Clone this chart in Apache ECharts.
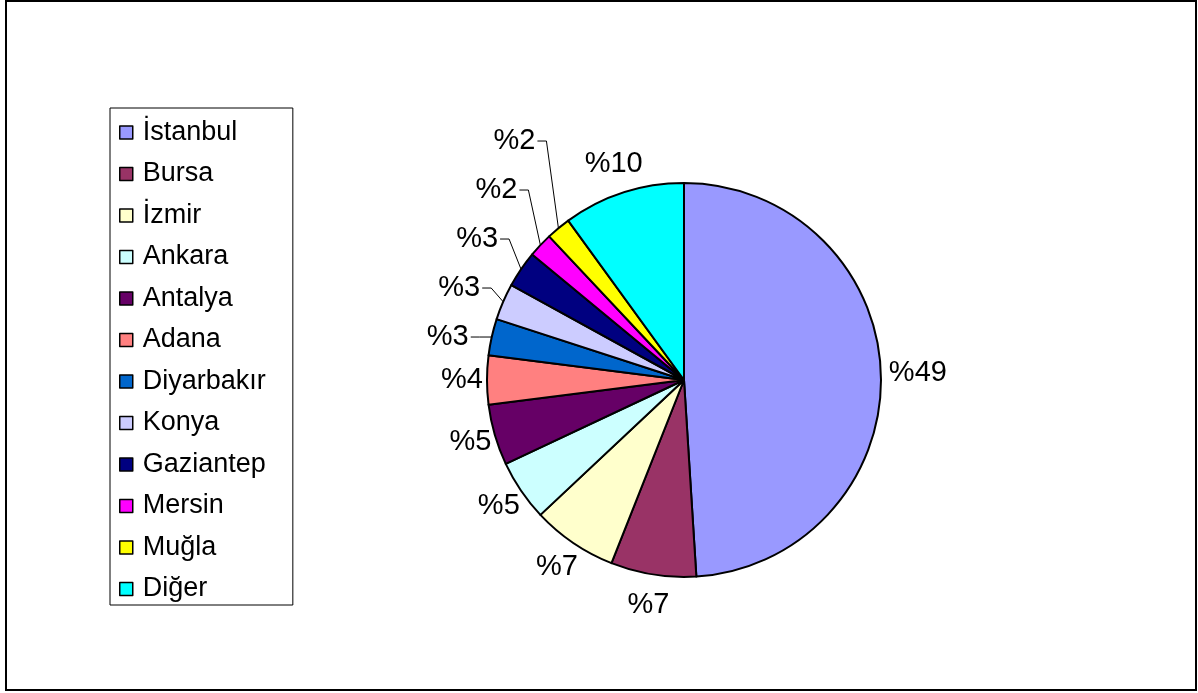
<!DOCTYPE html>
<html>
<head>
<meta charset="utf-8">
<script src="https://cdn.jsdelivr.net/npm/echarts@6/dist/echarts.min.js"></script>
<style>
  html, body { margin: 0; padding: 0; background: #fff; }
  #main { width: 1198px; height: 693px; }
</style>
</head>
<body>
<div id="main"></div>
<script>
// şehirler ve payları (%)
const cities = ['İstanbul', 'Bursa', 'İzmir', 'Ankara', 'Antalya', 'Adana',
    'Diyarbakır', 'Konya', 'Gaziantep', 'Mersin', 'Muğla', 'Diğer'];
const shares = [49, 7, 7, 5, 5, 4, 3, 3, 3, 2, 2, 10];
const colors = ['#9999FF', '#993366', '#FFFFCC', '#CCFFFF', '#660066', '#FF8080',
    '#0066CC', '#CCCCFF', '#000080', '#FF00FF', '#FFFF00', '#00FFFF'];
// küçük dilimlerin etiketleri yukarı yığılıyor, kılavuz çizgisiyle
const withLine = ['Diyarbakır', 'Konya', 'Gaziantep', 'Mersin', 'Muğla'];

const center = [684, 380];
const radius = 197;
const labelRadius = 228;   // etiket merkezinin uzaklığı
const labelStep = 49;      // yığılan etiketler arası

const myChart = echarts.init(document.getElementById('main'));

const data = cities.map(function (name, i) {
    const item = {name: name, value: shares[i], itemStyle: {color: colors[i]}};
    if (withLine.indexOf(name) < 0) {
        // çizgi görünmesin ama noktaları hesaplansın
        item.labelLine = {lineStyle: {opacity: 0}};
    }
    return item;
});

let stackY = null;
function placeLabel(p) {
    const pts = p.labelLinePoints;
    if (!pts) return {};
    const x0 = pts[0][0], y0 = pts[0][1];
    const len = Math.hypot(x0 - center[0], y0 - center[1]);
    const ux = (x0 - center[0]) / len, uy = (y0 - center[1]) / len;
    const k = withLine.indexOf(cities[p.dataIndex]);
    if (k < 0) {
        const r = labelRadius + 6 * ux * Math.abs(ux);
        return {
            x: center[0] + ux * r,
            y: center[1] + uy * r,
            align: 'center',
            verticalAlign: 'middle'
        };
    }
    if (k === 0) stackY = y0;
    const y = Math.min(y0, stackY - k * labelStep);
    const textRight = x0 - 23;
    return {
        x: textRight,
        y: y,
        align: 'right',
        verticalAlign: 'middle',
        labelLinePoints: [[x0, y0], [x0 - 12, y], [textRight + 2, y]]
    };
}

const option = {
    backgroundColor: '#fff',
    animation: false,
    graphic: [{
        type: 'rect',
        shape: {x: 6, y: 1, width: 1190, height: 689},
        style: {fill: 'none', stroke: '#000', lineWidth: 2},
        silent: true
    }],
    legend: {
        orient: 'vertical',
        left: 110,
        top: 108,
        padding: [11, 27, 2.5, 9],
        borderColor: '#000',
        borderWidth: 1,
        icon: 'rect',
        itemWidth: 13,
        itemHeight: 13,
        itemGap: 14.5,
        itemStyle: {borderColor: '#000', borderWidth: 1.5},
        textStyle: {
            fontFamily: 'Arial, "Liberation Sans"',
            fontSize: 27,
            lineHeight: 27,
            color: '#000',
            padding: [0, 0, 0, 5]
        },
        data: cities
    },
    series: [{
        type: 'pie',
        center: center,
        radius: radius,
        startAngle: 90,
        clockwise: true,
        avoidLabelOverlap: false,
        itemStyle: {borderColor: '#000', borderWidth: 2},
        emphasis: {disabled: true},
        label: {
            position: 'outside',
            formatter: function (p) { return '%' + p.value; },
            fontFamily: 'Arial, "Liberation Sans"',
            fontSize: 29,
            color: '#000'
        },
        labelLine: {
            show: true,
            length: 10,
            length2: 10,
            lineStyle: {color: '#000', width: 1}
        },
        labelLayout: placeLabel,
        data: data
    }]
};
myChart.setOption(option);
</script>
</body>
</html>
